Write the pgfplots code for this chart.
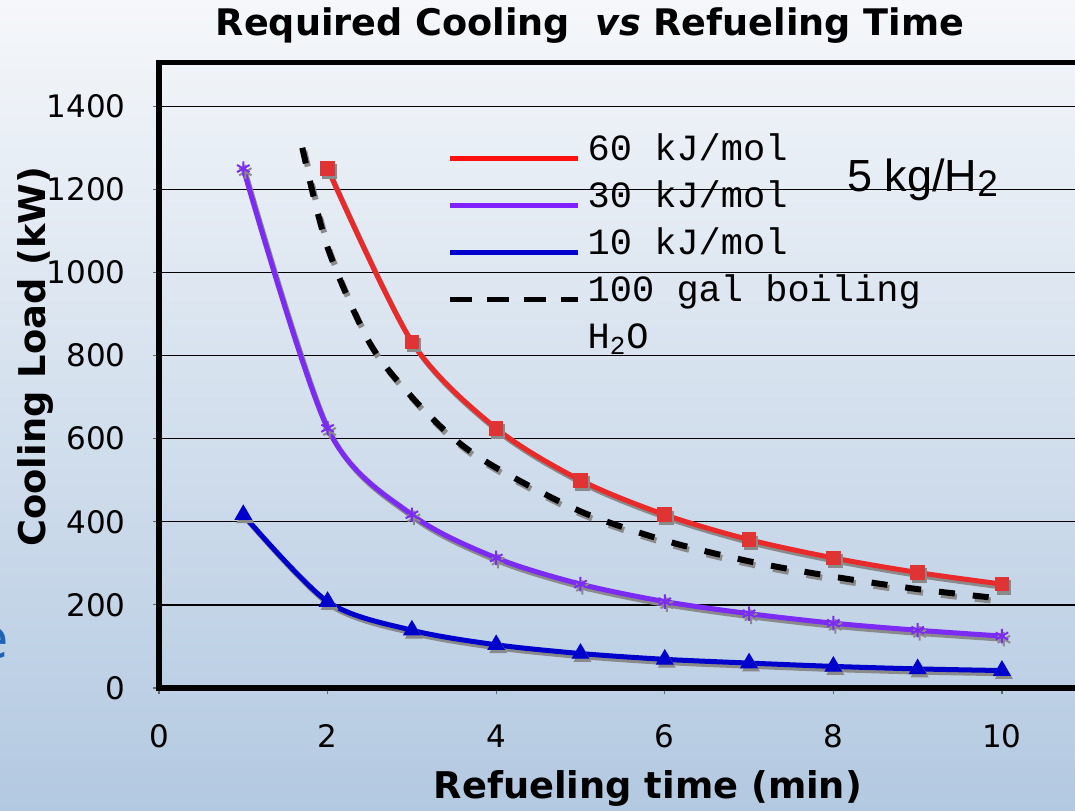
\documentclass[border=0pt]{standalone}
\usepackage{pgfplots}
\pgfplotsset{compat=1.18}
\usepackage{fontspec}
\setmainfont{DejaVu Sans}
\newfontfamily\mono{Liberation Mono}
\newfontfamily\arial{Liberation Sans}
\definecolor{bgtop}{HTML}{F5F7FA}
\definecolor{bgbot}{HTML}{B3C9E1}
\definecolor{slideblue}{HTML}{1F64B4}
\definecolor{redline}{HTML}{E82A2A}
\definecolor{redmark}{HTML}{E03434}
\definecolor{redleg}{HTML}{FF1010}
\definecolor{purpline}{HTML}{7B2BF2}
\definecolor{purpleg}{HTML}{7F22FF}
\definecolor{blueline}{HTML}{0000CC}
\definecolor{shadowgray}{HTML}{8A8A8A}
\pgfplotsset{
  shadowstyle/.style={forget plot, color=shadowgray, line width=2.5pt, xshift=1pt, yshift=-1.6pt},
}
\begin{document}
\begin{tikzpicture}
\shade[top color=bgtop, bottom color=bgbot] (0,0) rectangle (537.5pt,405pt);
\path[use as bounding box] (0,0) rectangle (537.5pt,405pt);
\node[anchor=base, inner sep=0pt, font=\bfseries\fontsize{18.3}{22}\selectfont] at (295pt,387pt) {Required Cooling\ \ \textit{vs} Refueling Time};
\node[anchor=base east, inner sep=0pt, text=slideblue, font=\fontsize{28}{30}\selectfont] at (4.5pt,76pt) {e};
\begin{axis}[
  at={(79.5pt,61pt)}, anchor=south west,
  scale only axis, width=488.9pt, height=312.7pt,
  xmin=0, xmax=11.6, ymin=0, ymax=1505,
  xtick={0,2,...,10}, ytick={0,200,...,1400},
  xtick pos=left, ytick pos=left,
  ymajorgrids, major grid style={black, line width=0.7pt},
  axis line style={black, line width=2.6pt},
  tick align=outside, major tick length=3pt,
  tick style={black!60, line width=0.6pt},
  /pgf/number format/assume math mode=true,
  /pgf/number format/1000 sep={},
  tick label style={font=\fontsize{15.5}{18}\selectfont, inner sep=0pt},
  yticklabel style={anchor=east, xshift=-13.5pt},
  xticklabel style={anchor=north, yshift=-15pt},
  xlabel={Refueling time (min)}, ylabel={Cooling Load (kW)},
  label style={font=\bfseries\fontsize{18.4}{22}\selectfont, inner sep=0pt},
  xlabel style={at={(axis cs:5.8,-265)}, anchor=base},
  ylabel style={at={(axis cs:-1.47,797)}, anchor=center},
  legend image code/.code={\draw[#1] (0pt,-3.5pt) -- (64pt,-3.5pt);},
  legend style={at={(axis cs:3.43,1336)}, anchor=north west, draw=none, fill=none,
    inner sep=0pt, outer sep=0pt, row sep=5pt, column sep=3.5pt,
    font=\mono\fontsize{18.5}{22}\selectfont,
    nodes={inner sep=0pt, text height=14pt, text depth=4.5pt}},
  legend cell align=left,
]
% shadows
\addplot[shadowstyle, smooth, line width=3pt, dash pattern=on 8pt off 9pt] coordinates {
 (1.7,1300) (2,1060) (2.5,830) (3,700) (3.5,600) (4,530) (5,425) (6,355) (7,305) (8,268) (9,238) (10,215)};
\addplot[shadowstyle, smooth, mark=asterisk, mark size=3.6pt, mark options={line width=1pt}] coordinates {
 (1,1250) (2,625) (3,417) (4,313) (5,250) (6,208) (7,179) (8,156) (9,139) (10,125)};
\addplot[shadowstyle, smooth, mark=triangle*, mark size=4.7pt, mark options={line width=0.5pt}] coordinates {
 (1,417) (2,208) (3,139) (4,104) (5,83) (6,69) (7,60) (8,52) (9,46) (10,42)};
\addplot[shadowstyle, smooth, mark=square*, mark size=3.4pt, mark options={line width=0.5pt}] coordinates {
 (2,1250) (3,833) (4,625) (5,500) (6,417) (7,357) (8,313) (9,278) (10,250)};
% series
\addplot[forget plot, black, line width=3pt, smooth, dash pattern=on 8pt off 9pt] coordinates {
 (1.7,1300) (2,1060) (2.5,830) (3,700) (3.5,600) (4,530) (5,425) (6,355) (7,305) (8,268) (9,238) (10,215)};
\addplot[forget plot, purpline, line width=2.5pt, smooth, mark=asterisk, mark size=3.6pt, mark options={line width=1pt}] coordinates {
 (1,1250) (2,625) (3,417) (4,313) (5,250) (6,208) (7,179) (8,156) (9,139) (10,125)};
\addplot[forget plot, blueline, line width=2.5pt, smooth, mark=triangle*, mark size=4.7pt, mark options={line width=0.5pt}] coordinates {
 (1,417) (2,208) (3,139) (4,104) (5,83) (6,69) (7,60) (8,52) (9,46) (10,42)};
\addplot[forget plot, redline, line width=2.5pt, smooth, mark=square*, mark size=3.4pt, mark options={redmark, line width=0.5pt}] coordinates {
 (2,1250) (3,833) (4,625) (5,500) (6,417) (7,357) (8,313) (9,278) (10,250)};
% legend
\addlegendimage{redleg, line width=2.3pt}
\addlegendentry{60 kJ/mol}
\addlegendimage{purpleg, line width=2.3pt}
\addlegendentry{30 kJ/mol}
\addlegendimage{blueline, line width=2.3pt}
\addlegendentry{10 kJ/mol}
\addlegendimage{black, line width=2.3pt, dash pattern=on 11pt off 7.5pt}
\addlegendentry{100 gal boiling}
\addlegendimage{empty legend}
\addlegendentry{H\textsubscript{2}O}
\node[anchor=base west, inner sep=0pt, font=\arial\fontsize{22.5}{26}\selectfont] at (axis cs:8.16,1194) {5 kg/H\raisebox{-2.5pt}{\fontsize{18.5}{22}\selectfont 2}};
\end{axis}
\end{tikzpicture}
\end{document}
